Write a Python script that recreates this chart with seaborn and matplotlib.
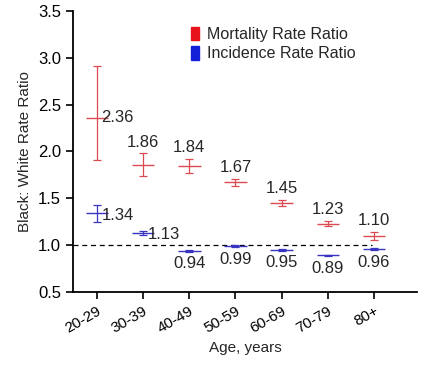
import matplotlib
matplotlib.use("Agg")
import matplotlib.pyplot as plt
import seaborn as sns
import pandas as pd
from matplotlib.patches import Patch

ages = ["20-29", "30-39", "40-49", "50-59", "60-69", "70-79", "80+"]
mort = [2.36, 1.86, 1.84, 1.67, 1.45, 1.23, 1.10]
mort_lo = [1.91, 1.74, 1.77, 1.63, 1.42, 1.20, 1.06]
mort_hi = [2.91, 1.98, 1.92, 1.71, 1.48, 1.26, 1.14]
inc = [1.34, 1.13, 0.94, 0.99, 0.95, 0.89, 0.96]
inc_lo = [1.25, 1.11, 0.93, 0.98, 0.94, 0.88, 0.95]
inc_hi = [1.43, 1.15, 0.95, 1.00, 0.96, 0.90, 0.97]

sns.set_style("ticks")
plt.rcParams["font.family"] = ["Liberation Sans", "DejaVu Sans"]

RED = "#dc4a52"
BLUE = "#3a35c0"

df = pd.DataFrame({
    "pos": list(range(len(ages))) * 2,
    "value": mort + inc,
    "lo": mort_lo + inc_lo,
    "hi": mort_hi + inc_hi,
    "series": ["Mortality Rate Ratio"] * len(ages) + ["Incidence Rate Ratio"] * len(ages),
})

fig = plt.figure(figsize=(4.37, 3.65), dpi=100)
ax = fig.add_axes([0.167, 0.2, 0.787, 0.77])

ax.axhline(1.0, xmin=0, xmax=(5.95 - (-0.52)) / (6.93 + 0.52), color="black",
           lw=0.9, ls=(0, (4, 3)), zorder=1)

sns.scatterplot(data=df, x="pos", y="value", hue="series", marker="_", s=260,
                linewidth=1.0, palette={"Mortality Rate Ratio": RED, "Incidence Rate Ratio": BLUE},
                ax=ax, legend=False, zorder=3)

for (name, sub), col in zip(df.groupby("series", sort=False), [RED, BLUE]):
    ax.errorbar(sub["pos"], sub["value"],
                yerr=[sub["value"] - sub["lo"], sub["hi"] - sub["value"]],
                fmt="none", ecolor=col, elinewidth=0.9, capsize=3, capthick=0.9, zorder=2)

# value labels
FS = 12
for i, v in enumerate(mort):
    if i == 0:
        ax.text(i + 0.1, v, f"{v:.2f}", ha="left", va="center", fontsize=FS)
    else:
        ax.text(i, mort_hi[i] + 0.04, f"{v:.2f}", ha="center", va="bottom", fontsize=FS)
for i, v in enumerate(inc):
    if i < 2:
        ax.text(i + 0.1, v - 0.02, f"{v:.2f}", ha="left", va="center", fontsize=FS)
    else:
        ax.text(i, inc_lo[i] - 0.05, f"{v:.2f}", ha="center", va="top", fontsize=FS)

ax.set_xlim(-0.52, 6.93)
ax.set_ylim(0.5, 3.5)
ax.set_yticks([0.5, 1.0, 1.5, 2.0, 2.5, 3.0, 3.5])
ax.set_yticklabels(["0.5", "1.0", "1.5", "2.0", "2.5", "3.0", "3.5"], fontsize=12)
ax.set_xticks(range(len(ages)))
ax.set_xticklabels(ages, rotation=30, ha="right", rotation_mode="anchor", fontsize=11)
ax.set_xlabel("Age, years", fontsize=11)
ax.set_ylabel("Black: White Rate Ratio", fontsize=11)
ax.tick_params(axis="both", length=5, width=1.2, colors="black")
for s in ["left", "bottom"]:
    ax.spines[s].set_linewidth(1.3)
    ax.spines[s].set_color("black")
sns.despine(ax=ax)

handles = [Patch(color="#e8141c", label="Mortality Rate Ratio"),
           Patch(color="#1420d8", label="Incidence Rate Ratio")]
ax.legend(handles=handles, loc="upper left", bbox_to_anchor=(0.325, 0.965), frameon=False,
          fontsize=11.5, handlelength=0.5, handleheight=0.9, handletextpad=0.5,
          labelspacing=0.25, borderaxespad=0)

fig.savefig("out.png", dpi=100)
